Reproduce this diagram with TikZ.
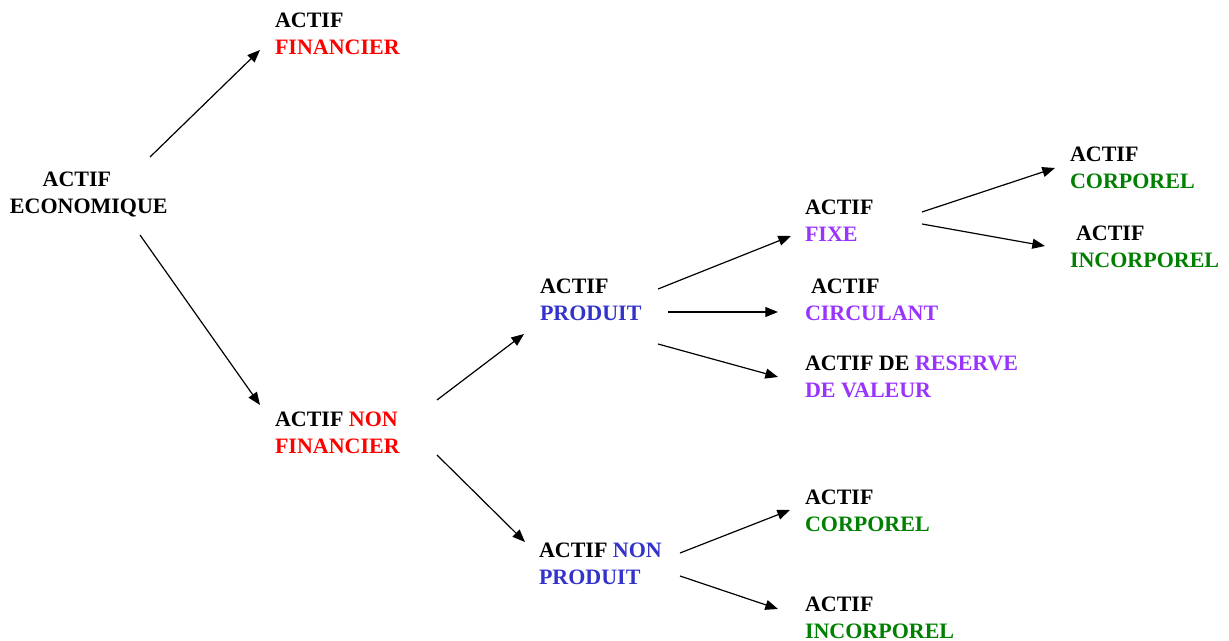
\documentclass[tikz,border=0pt]{standalone}
\usepackage{fontspec}
\setmainfont{Liberation Serif}
\usetikzlibrary{calc,arrows.meta}
\definecolor{cred}{RGB}{255,0,0}
\definecolor{cblue}{RGB}{51,51,204}
\definecolor{cpurple}{RGB}{153,51,255}
\definecolor{cgreen}{RGB}{0,128,0}
\begin{document}
\begin{tikzpicture}[x=0.75pt,y=-0.75pt,
  lbl/.style={anchor=north west,inner sep=0pt,outer sep=0pt,align=left,
    font=\fontsize{16.5}{20}\selectfont\bfseries},
  arr/.style={line width=0.9pt,-{Triangle[length=9.5pt,width=7.5pt]}}]
\useasboundingbox (0,0) rectangle (1229,641);
\node[lbl] (fin) at (275,13) {ACTIF\\\textcolor{cred}{FINANCIER}};
\node[lbl] (eco) at (10,172) {\hspace*{24.5pt}ACTIF\\ECONOMIQUE};
\node[lbl] (nfin) at (275,412) {ACTIF \textcolor{cred}{NON}\\\textcolor{cred}{FINANCIER}};
\node[lbl] (prod) at (540,279) {ACTIF\\\textcolor{cblue}{PRODUIT}};
\node[lbl] (nprod) at (539,543) {ACTIF \textcolor{cblue}{NON}\\\textcolor{cblue}{PRODUIT}};
\node[lbl] (fixe) at (805,200) {ACTIF\\\textcolor{cpurple}{FIXE}};
\node[lbl] (circ) at (805,279) {\hspace*{4.5pt}ACTIF\\\textcolor{cpurple}{CIRCULANT}};
\node[lbl] (res) at (805,356) {ACTIF DE \textcolor{cpurple}{RESERVE}\\\textcolor{cpurple}{DE VALEUR}};
\node[lbl] (corp1) at (1070,147) {ACTIF\\\textcolor{cgreen}{CORPOREL}};
\node[lbl] (incorp1) at (1070,226) {\hspace*{4.5pt}ACTIF\\\textcolor{cgreen}{INCORPOREL}};
\node[lbl] (corp2) at (805,490) {ACTIF\\\textcolor{cgreen}{CORPOREL}};
\node[lbl] (incorp2) at (805,597) {ACTIF\\\textcolor{cgreen}{INCORPOREL}};
\draw[arr] ($(eco.north west)+(140,-15)$) -- ($(fin.north west)+(-15,37)$);
\draw[arr] ($(eco.north west)+(130,63)$) -- ($(nfin.north west)+(-15,-7)$);
\draw[arr] ($(nfin.north west)+(162,-12)$) -- ($(prod.north west)+(-16,55)$);
\draw[arr] ($(nfin.north west)+(162,43)$) -- ($(nprod.north west)+(-14,-1)$);
\draw[arr] ($(prod.north west)+(118,10)$) -- ($(fixe.north west)+(-14,36)$);
\draw[arr] ($(prod.north west)+(128,33)$) -- ($(circ.north west)+(-27,33)$);
\draw[arr] ($(prod.north west)+(118,65)$) -- ($(res.north west)+(-27,21)$);
\draw[arr] ($(fixe.north west)+(117,12)$) -- ($(corp1.north west)+(-15,21)$);
\draw[arr] ($(fixe.north west)+(117,24)$) -- ($(incorp1.north west)+(-25,20)$);
\draw[arr] ($(nprod.north west)+(141,10)$) -- ($(corp2.north west)+(-15,20)$);
\draw[arr] ($(nprod.north west)+(141,33)$) -- ($(incorp2.north west)+(-27,12)$);
\end{tikzpicture}
\end{document}
